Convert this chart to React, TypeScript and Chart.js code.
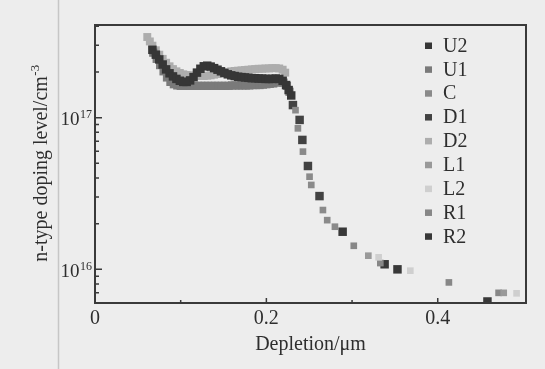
import React, { useEffect, useRef } from "react";
import { Chart, registerables } from "chart.js";
Chart.register(...registerables);

const seriesNames = ["U2", "U1", "C", "D1", "D2", "L1", "L2", "R1", "R2"];
const seriesColors = ["#363636", "#7a7a7a", "#8a8a8a", "#424242", "#adadad", "#999999", "#cfcfcf", "#878787", "#383838"];
const seriesRadius = [6, 5.8, 4.7, 6, 5.6, 4.7, 4.7, 4.7, 6];

// U2 – dark curve with bump
const u2Depletion = [0.067, 0.071, 0.075, 0.079, 0.083, 0.087, 0.091, 0.095, 0.099, 0.103, 0.107, 0.111, 0.115, 0.119, 0.123, 0.127, 0.131, 0.135, 0.139, 0.143, 0.147, 0.151, 0.155, 0.159, 0.163, 0.167, 0.171, 0.175, 0.179, 0.183, 0.187, 0.191, 0.195, 0.199, 0.203, 0.207, 0.211, 0.215, 0.219, 0.223, 0.226, 0.229];
const u2Doping = [2.80e17, 2.60e17, 2.42e17, 2.24e17, 2.08e17, 1.96e17, 1.87e17, 1.80e17, 1.75e17, 1.72e17, 1.72e17, 1.76e17, 1.85e17, 1.98e17, 2.10e17, 2.18e17, 2.20e17, 2.17e17, 2.12e17, 2.07e17, 2.02e17, 1.97e17, 1.93e17, 1.90e17, 1.88e17, 1.86e17, 1.85e17, 1.84e17, 1.83e17, 1.82e17, 1.82e17, 1.81e17, 1.81e17, 1.80e17, 1.80e17, 1.80e17, 1.81e17, 1.80e17, 1.75e17, 1.64e17, 1.52e17, 1.40e17];

// U1 – medium grey lower curve
const u1Depletion = [0.068, 0.072, 0.076, 0.080, 0.084, 0.088, 0.092, 0.096, 0.100, 0.104, 0.108, 0.112, 0.116, 0.120, 0.124, 0.128, 0.132, 0.136, 0.140, 0.144, 0.148, 0.152, 0.156, 0.160, 0.164, 0.168, 0.172, 0.176, 0.180, 0.184, 0.188, 0.192, 0.196, 0.200, 0.204, 0.208, 0.212, 0.216, 0.220, 0.224, 0.227];
const u1Doping = [2.68e17, 2.44e17, 2.22e17, 2.02e17, 1.84e17, 1.72e17, 1.66e17, 1.63e17, 1.62e17, 1.62e17, 1.62e17, 1.62e17, 1.62e17, 1.62e17, 1.62e17, 1.62e17, 1.62e17, 1.62e17, 1.62e17, 1.62e17, 1.62e17, 1.62e17, 1.62e17, 1.63e17, 1.63e17, 1.63e17, 1.63e17, 1.63e17, 1.63e17, 1.64e17, 1.64e17, 1.64e17, 1.65e17, 1.66e17, 1.67e17, 1.68e17, 1.70e17, 1.72e17, 1.70e17, 1.62e17, 1.48e17];

// C – grey points along the drop
const cDepletion = [0.234, 0.2368, 0.2427, 0.2504, 0.2524, 0.266, 0.271, 0.280];
const cDoping = [1.12e17, 8.5e16, 5.97e16, 4.08e16, 3.6e16, 2.46e16, 2.11e16, 1.91e16];

// D1 – dark points along the drop
const d1Depletion = [0.231, 0.2388, 0.242, 0.2485, 0.262];
const d1Doping = [1.21e17, 9.66e16, 7.13e16, 4.8e16, 3.04e16];

// D2 – light upper curve
const d2Depletion = [0.061, 0.064, 0.067, 0.071, 0.075, 0.079, 0.083, 0.087, 0.091, 0.095, 0.099, 0.103, 0.107, 0.111, 0.115, 0.119, 0.123, 0.127, 0.131, 0.135, 0.139, 0.143, 0.147, 0.151, 0.155, 0.159, 0.163, 0.167, 0.171, 0.175, 0.179, 0.183, 0.187, 0.191, 0.195, 0.199, 0.203, 0.207, 0.211, 0.215, 0.219, 0.222];
const d2Doping = [3.40e17, 3.18e17, 2.98e17, 2.78e17, 2.60e17, 2.44e17, 2.30e17, 2.18e17, 2.09e17, 2.02e17, 1.97e17, 1.93e17, 1.91e17, 1.90e17, 1.89e17, 1.88e17, 1.88e17, 1.88e17, 1.89e17, 1.90e17, 1.92e17, 1.94e17, 1.96e17, 1.98e17, 2.00e17, 2.02e17, 2.03e17, 2.04e17, 2.05e17, 2.06e17, 2.07e17, 2.08e17, 2.09e17, 2.10e17, 2.10e17, 2.11e17, 2.11e17, 2.12e17, 2.12e17, 2.11e17, 2.07e17, 1.98e17];

// L1, L2, R1, R2 – tail points
const l1Depletion = [0.319, 0.477];
const l1Doping = [1.23e16, 7.0e15];
const l2Depletion = [0.331, 0.368, 0.492];
const l2Doping = [1.2e16, 9.8e15, 6.95e15];
const r1Depletion = [0.302, 0.333, 0.413, 0.471];
const r1Doping = [1.43e16, 1.1e16, 8.2e15, 7.0e15];
const r2Depletion = [0.289, 0.338, 0.353, 0.458];
const r2Doping = [1.77e16, 1.08e16, 1.0e16, 6.14e15];

const seriesDepletion = [u2Depletion, u1Depletion, cDepletion, d1Depletion, d2Depletion, l1Depletion, l2Depletion, r1Depletion, r2Depletion];
const seriesDoping = [u2Doping, u1Doping, cDoping, d1Doping, d2Doping, l1Doping, l2Doping, r1Doping, r2Doping];

const xTickValues = [0, 0.2, 0.4];
const xMinorTicks = [0.1, 0.3];
const yMajorTicks = [1e16, 1e17];
const yMajorExponents = ["16", "17"];
const yMinorTicks = [6e15, 7e15, 8e15, 9e15, 2e16, 3e16, 4e16, 5e16, 6e16, 7e16, 8e16, 9e16, 2e17, 3e17, 4e17];

const FONT = "'Liberation Serif', 'Times New Roman', serif";
const TEXT = "#2e2e2e";

const decorPlugin = {
  id: "decor",
  beforeDraw(chart: any) {
    const ctx = chart.ctx;
    ctx.save();
    ctx.fillStyle = "#ededed";
    ctx.fillRect(0, 0, chart.width, chart.height);
    ctx.strokeStyle = "#c6c6c6";
    ctx.lineWidth = 1.5;
    ctx.beginPath();
    ctx.moveTo(58.5, 0);
    ctx.lineTo(58.5, chart.height);
    ctx.stroke();
    ctx.restore();
  },
  afterDatasetsDraw(chart: any) {
    const ctx = chart.ctx;
    const { left, right, top, bottom } = chart.chartArea;
    const xs = chart.scales.x;
    const ys = chart.scales.y;
    ctx.save();
    // frame
    ctx.strokeStyle = "#3a3a3a";
    ctx.lineWidth = 2;
    ctx.strokeRect(left, top, right - left, bottom - top);
    // inward ticks
    ctx.lineWidth = 1.5;
    ctx.beginPath();
    yMajorTicks.forEach((v) => {
      const y = ys.getPixelForValue(v);
      ctx.moveTo(left, y);
      ctx.lineTo(left + 7, y);
    });
    yMinorTicks.forEach((v) => {
      const y = ys.getPixelForValue(v);
      ctx.moveTo(left, y);
      ctx.lineTo(left + 4, y);
    });
    xTickValues.forEach((v) => {
      const x = xs.getPixelForValue(v);
      ctx.moveTo(x, bottom);
      ctx.lineTo(x, bottom - 5);
    });
    xMinorTicks.forEach((v) => {
      const x = xs.getPixelForValue(v);
      ctx.moveTo(x, bottom);
      ctx.lineTo(x, bottom - 3);
    });
    ctx.stroke();

    // y tick labels with superscripts
    ctx.fillStyle = TEXT;
    ctx.textBaseline = "alphabetic";
    yMajorTicks.forEach((v, i) => {
      const y = ys.getPixelForValue(v);
      ctx.font = `12px ${FONT}`;
      const sup = yMajorExponents[i];
      const supW = ctx.measureText(sup).width;
      const supLeft = 92 - supW;
      ctx.textAlign = "left";
      ctx.fillText(sup, supLeft, y + 0.5);
      ctx.font = `19px ${FONT}`;
      ctx.textAlign = "right";
      ctx.fillText("10", supLeft - 0.5, y + 7.5);
    });

    // y title rotated
    ctx.save();
    ctx.translate(40, 163.5);
    ctx.rotate(-Math.PI / 2);
    const main = "n-type doping level/cm";
    const supT = "-3";
    ctx.font = `20px ${FONT}`;
    const mw = ctx.measureText(main).width;
    ctx.font = `13px ${FONT}`;
    const sw = ctx.measureText(supT).width;
    const start = -(mw + sw) / 2;
    ctx.textAlign = "left";
    ctx.textBaseline = "alphabetic";
    ctx.font = `20px ${FONT}`;
    ctx.fillText(main, start, 6.5);
    ctx.font = `13px ${FONT}`;
    ctx.fillText(supT, start + mw + 0.5, -1.5);
    ctx.restore();

    // legend
    ctx.textAlign = "left";
    ctx.textBaseline = "middle";
    ctx.font = `20px ${FONT}`;
    chart.data.datasets.forEach((ds: any, i: number) => {
      const cy = 45.5 + i * 23.85;
      ctx.fillStyle = ds.backgroundColor;
      ctx.fillRect(425, cy - 3, 7, 6.5);
      ctx.fillStyle = TEXT;
      ctx.fillText(ds.label, 443, cy + 1);
    });
    ctx.restore();
  },
};

export default function App() {
  const ref = useRef<HTMLCanvasElement | null>(null);
  useEffect(() => {
    if (!ref.current) return;
    const datasets = seriesNames.map((name, i) => ({
      label: name,
      data: seriesDepletion[i].map((x, j) => ({ x, y: seriesDoping[i][j] })),
      backgroundColor: seriesColors[i],
      borderColor: seriesColors[i],
      pointStyle: "rect",
      pointRadius: seriesRadius[i],
      pointBorderWidth: 0,
      showLine: false,
    }));
    const chart = new Chart(ref.current, {
      type: "scatter",
      data: { datasets },
      plugins: [decorPlugin],
      options: {
        responsive: false,
        animation: false,
        layout: { padding: { top: 25, right: 19, bottom: 0, left: 0 } },
        plugins: { legend: { display: false }, tooltip: { enabled: false } },
        scales: {
          x: {
            type: "linear",
            min: 0,
            max: 0.503,
            grid: { display: false, drawTicks: false },
            border: { display: false },
            afterBuildTicks: (scale: any) => {
              scale.ticks = xTickValues.map((v) => ({ value: v }));
            },
            afterFit: (scale: any) => {
              scale.height = 66;
            },
            ticks: {
              padding: 4,
              color: TEXT,
              font: { family: FONT, size: 20 },
              callback: (v: any) => (Number(v) === 0 ? "0" : Number(v).toFixed(1)),
            },
            title: {
              display: true,
              text: "Depletion/\u03bcm",
              color: TEXT,
              font: { family: FONT, size: 20 },
              padding: { top: 0, bottom: 12 },
            },
          },
          y: {
            type: "logarithmic",
            min: 6.0e15,
            max: 4.08e17,
            grid: { display: false, drawTicks: false },
            border: { display: false },
            ticks: { display: false },
            afterFit: (scale: any) => {
              scale.width = 95;
            },
          },
        },
      },
    });
    return () => chart.destroy();
  }, []);
  return (
    <div style={{ position: "fixed", left: 0, top: 0, width: 545, height: 369, background: "#ededed" }}>
      <canvas ref={ref} width={545} height={369} style={{ display: "block", width: 545, height: 369 }} />
    </div>
  );
}
